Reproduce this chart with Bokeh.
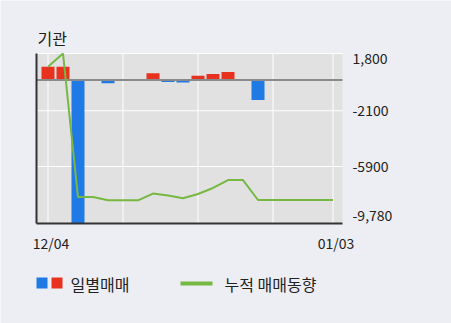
from bokeh.plotting import figure
from bokeh.models import Range1d, Label, ColumnDataSource
from bokeh.embed import file_html
from bokeh.resources import INLINE

# ---- data ----
dates = ["12/04", "12/05", "12/06", "12/07", "12/10", "12/11", "12/12", "12/13", "12/14", "12/17",
         "12/18", "12/19", "12/20", "12/21", "12/24", "12/26", "12/27", "12/28", "01/02", "01/03"]
daily = [900, 900, -9780, 0, -220, 0, 0, 460, -140, -180,
         290, 410, 540, 0, -1360, 0, 0, 0, 0, 0]
cumulative = [900, 1800, -7980, -7980, -8200, -8200, -8200, -7740, -7880, -8060,
              -7770, -7360, -6820, -6820, -8180, -8180, -8180, -8180, -8180, -8180]
y_ticks = [1800, -2100, -5900, -9780]
y_tick_labels = ["1,800", "-2100", "-5900", "-9,780"]
x_grid_index = [0, 5, 10, 15, 19]
x_tick_index = [0, len(dates) - 1]
title_text = "기관"
legend_bar_text = "일별매매"
legend_line_text = "누적 매매동향"

# ---- styles / layout ----
W, H = 451, 323
PAGE = "#edeef3"
PANEL = "#e1e1e1"
RED = "#e8321f"
BLUE = "#1f7ae6"
GREEN = "#77b843"
TEXT = "#222222"
FONT = "Noto Sans CJK KR"

Y_MAX, Y_MIN = y_ticks[0], y_ticks[-1]
PX_TOP, PX_BOTTOM = 53, 223          # panel top / bottom in pixels
PX_X0, PX_STEP = 47.5, 15.0          # centre of first bar, pixels per day
K = (Y_MAX - Y_MIN) / (PX_BOTTOM - PX_TOP)   # value units per pixel


def X(px):
    return (px - PX_X0) / PX_STEP


def Y(py):
    return Y_MAX - (py - PX_TOP) * K


p = figure(width=W, height=H, output_backend="svg", toolbar_location=None,
           x_axis_type=None, y_axis_type=None,
           x_range=Range1d(X(0), X(W)), y_range=Range1d(Y(H), Y(0)),
           min_border=0, min_border_left=0, min_border_right=0,
           min_border_top=0, min_border_bottom=0)
p.background_fill_color = PAGE
p.border_fill_color = PAGE
p.outline_line_color = None

xl, xr = X(36), X(342)

# panel
p.quad(left=[xl], right=[xr], bottom=[Y_MIN], top=[Y_MAX], fill_color=PANEL, line_color=None)
# grid
p.segment(x0=x_grid_index, x1=x_grid_index, y0=[Y_MIN] * len(x_grid_index),
          y1=[Y_MAX] * len(x_grid_index), line_color="white", line_width=1)
p.segment(x0=[xl] * len(y_ticks), x1=[xr] * len(y_ticks), y0=y_ticks, y1=y_ticks,
          line_color="white", line_width=1)

# bars
idx = list(range(len(dates)))
colors = [RED if v > 0 else BLUE for v in daily]
src = ColumnDataSource(dict(x=idx, top=daily, color=colors, date=dates))
p.vbar(x="x", top="top", bottom=0, width=13 / PX_STEP, fill_color="color", line_color=None, source=src)
# zero line
p.segment(x0=[xl], x1=[xr], y0=[0], y1=[0], line_color="#8a8a8a", line_width=2)
# cumulative line
p.line(idx, cumulative, line_color=GREEN, line_width=2)
# axis lines
p.segment(x0=[xl, xl], x1=[xl, xr], y0=[Y_MAX, Y_MIN], y1=[Y_MIN, Y_MIN],
          line_color="#333333", line_width=2)

# y labels (right)
offsets = {Y_MAX: -5, Y_MIN: 8}
for v, t in zip(y_ticks, y_tick_labels):
    p.add_layout(Label(x=X(352), y=v, y_offset=offsets.get(v, 0), text=t,
                       text_font=FONT, text_font_size="14px", text_color=TEXT,
                       text_align="left", text_baseline="middle"))
# x labels
for i in x_tick_index:
    p.add_layout(Label(x=i, y=Y_MIN, x_offset=3, y_offset=-19, text=dates[i],
                       text_font=FONT, text_font_size="14px", text_color=TEXT,
                       text_align="center", text_baseline="middle"))
# title
p.add_layout(Label(x=X(37), y=Y(37), text=title_text,
                   text_font=FONT, text_font_size="16px", text_color=TEXT,
                   text_align="left", text_baseline="middle"))

# legend
p.quad(left=[X(36), X(51)], right=[X(47), X(62)], top=[Y(277), Y(277)], bottom=[Y(288), Y(288)],
       fill_color=[BLUE, RED], line_color=None)
p.line([X(180), X(212)], [Y(283), Y(283)], line_color=GREEN, line_width=4)
p.add_layout(Label(x=X(70), y=Y(283), text=legend_bar_text, text_font=FONT, text_font_size="16px",
                   text_color=TEXT, text_align="left", text_baseline="middle"))
p.add_layout(Label(x=X(224), y=Y(283), text=legend_line_text, text_font=FONT, text_font_size="16px",
                   text_color=TEXT, text_align="left", text_baseline="middle"))

open("out.html", "w").write(file_html(p, INLINE))
